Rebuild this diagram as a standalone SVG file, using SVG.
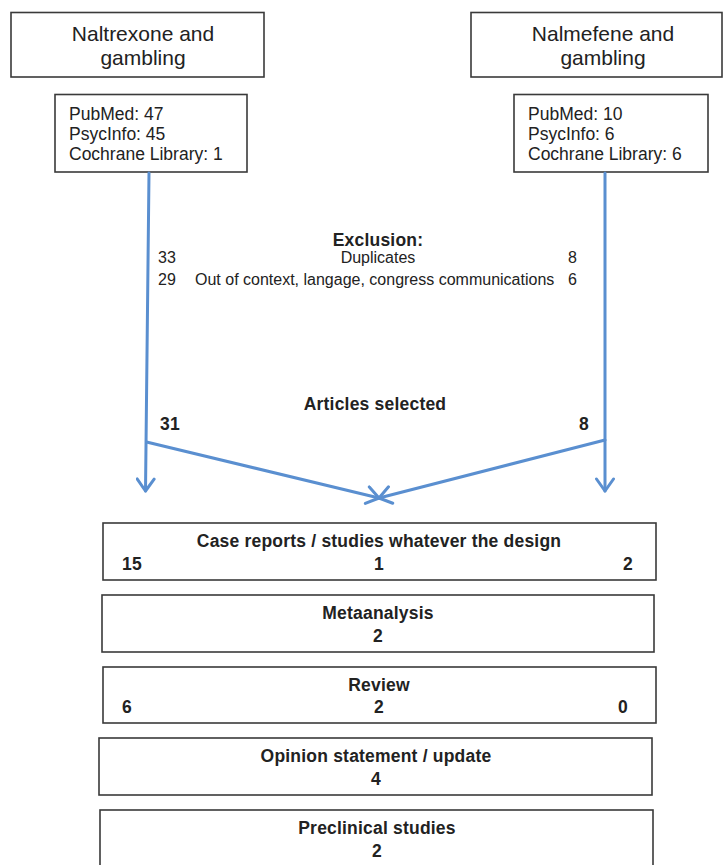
<svg xmlns="http://www.w3.org/2000/svg" width="725" height="865" viewBox="0 0 725 865">
<style>
  .box { fill: #ffffff; stroke: #3a3a3a; stroke-width: 1.6; }
  .t { font-family: "Liberation Sans", Arial, sans-serif; fill: #222222; }
  .title { font-size: 21px; text-anchor: middle; }
  .src { font-size: 17.5px; }
  .reg { font-size: 16px; }
  .b { font-size: 17.5px; font-weight: bold; letter-spacing: 0.2px; }
  .mid { text-anchor: middle; }
  .end { text-anchor: end; }
  .conn { fill: none; stroke: #5a8fd0; stroke-width: 3; stroke-linecap: round; }
</style>
<defs>
  <marker id="arr" viewBox="0 0 16 20" refX="14" refY="10" markerWidth="16" markerHeight="20" markerUnits="userSpaceOnUse" orient="auto">
    <path d="M2,1.5 L14,10 L2,18.5" fill="none" stroke="#5a8fd0" stroke-width="3" stroke-linecap="round" stroke-linejoin="round"/>
  </marker>
</defs>
<rect x="0" y="0" width="725" height="865" fill="#ffffff"/>

<g id="naltrexone">
  <rect class="box" x="11" y="12.5" width="253" height="64.5"/>
  <text class="t title" x="143" y="41">Naltrexone and</text>
  <text class="t title" x="143" y="65">gambling</text>
</g>
<g id="nalmefene">
  <rect class="box" x="471" y="12.5" width="251" height="64.5"/>
  <text class="t title" x="603" y="41">Nalmefene and</text>
  <text class="t title" x="603" y="65">gambling</text>
</g>
<g id="sources-naltrexone">
  <rect class="box" x="55" y="94.5" width="192" height="77.5"/>
  <text class="t src" x="69" y="120">PubMed: 47</text>
  <text class="t src" x="69" y="140">PsycInfo: 45</text>
  <text class="t src" x="69" y="160">Cochrane Library: 1</text>
</g>
<g id="sources-nalmefene">
  <rect class="box" x="514" y="94.5" width="194" height="77.5"/>
  <text class="t src" x="528" y="120">PubMed: 10</text>
  <text class="t src" x="528" y="140">PsycInfo: 6</text>
  <text class="t src" x="528" y="160">Cochrane Library: 6</text>
</g>

<g id="exclusion">
  <text class="t b mid" x="378" y="246">Exclusion:</text>
  <text class="t reg" x="158" y="263">33</text>
  <text class="t reg mid" x="378" y="263">Duplicates</text>
  <text class="t reg end" x="577" y="263">8</text>
  <text class="t reg" x="158" y="285">29</text>
  <text class="t reg" x="195" y="285">Out of context, langage, congress communications</text>
  <text class="t reg end" x="577" y="285">6</text>
</g>

<g id="selected">
  <text class="t b mid" x="375" y="410">Articles selected</text>
  <text class="t b" x="160" y="430">31</text>
  <text class="t b end" x="589" y="430">8</text>
</g>

<g id="connectors">
  <line class="conn" x1="149" y1="173" x2="145.5" y2="491" marker-end="url(#arr)"/>
  <line class="conn" x1="605" y1="173" x2="605" y2="491" marker-end="url(#arr)"/>
  <line class="conn" x1="146.5" y1="442" x2="379" y2="498" marker-end="url(#arr)"/>
  <line class="conn" x1="605" y1="440" x2="379" y2="498" marker-end="url(#arr)"/>
</g>

<g id="case-reports">
  <rect class="box" x="103" y="523" width="553" height="57"/>
  <text class="t b mid" x="379" y="547">Case reports / studies whatever the design</text>
  <text class="t b" x="122" y="570">15</text>
  <text class="t b mid" x="379" y="570">1</text>
  <text class="t b end" x="633" y="570">2</text>
</g>
<g id="metaanalysis">
  <rect class="box" x="102" y="595" width="552" height="57"/>
  <text class="t b mid" x="378" y="619">Metaanalysis</text>
  <text class="t b mid" x="378" y="642">2</text>
</g>
<g id="review">
  <rect class="box" x="103" y="667" width="553" height="56"/>
  <text class="t b mid" x="379" y="691">Review</text>
  <text class="t b" x="122" y="713">6</text>
  <text class="t b mid" x="379" y="713">2</text>
  <text class="t b end" x="628" y="713">0</text>
</g>
<g id="opinion">
  <rect class="box" x="99" y="738" width="553" height="57"/>
  <text class="t b mid" x="376" y="762">Opinion statement / update</text>
  <text class="t b mid" x="376" y="785">4</text>
</g>
<g id="preclinical">
  <rect class="box" x="100" y="810" width="553" height="70"/>
  <text class="t b mid" x="377" y="834">Preclinical studies</text>
  <text class="t b mid" x="377" y="857">2</text>
</g>
</svg>
